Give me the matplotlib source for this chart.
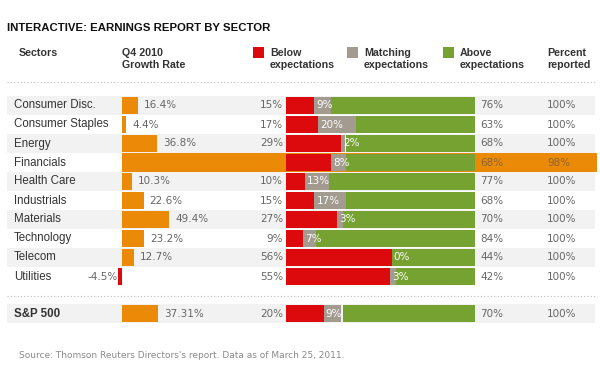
import matplotlib
matplotlib.use("Agg")
import matplotlib.pyplot as plt
from matplotlib.patches import Rectangle

# ---------------- data ----------------
sectors = ["Consumer Disc.", "Consumer Staples", "Energy", "Financials", "Health Care",
           "Industrials", "Materials", "Technology", "Telecom", "Utilities"]
growth = [16.4, 4.4, 36.8, 172.0, 10.3, 22.6, 49.4, 23.2, 12.7, -4.5]
growth_labels = ["16.4%", "4.4%", "36.8%", "", "10.3%", "22.6%", "49.4%", "23.2%", "12.7%", "-4.5%"]
below = [15, 17, 29, 24, 10, 15, 27, 9, 56, 55]
matching = [9, 20, 2, 8, 13, 17, 3, 7, 0, 3]
above = [76, 63, 68, 68, 77, 68, 70, 84, 44, 42]
reported = [100, 100, 100, 98, 100, 100, 100, 100, 100, 100]

total_name = "S&P 500"
total_growth = 37.31
total_growth_label = "37.31%"
total_below = 20
total_matching = 9
total_above = 70
total_reported = 100

highlight = "Financials"

# ---------------- style ----------------
ORANGE = "#EA8A06"
RED = "#DC0A0D"
GRAY = "#A39A90"
GREEN = "#76A232"
ROWBG = "#F2F2F2"
TXT = "#333333"
NUM = "#666666"
HLTXT = "#8A6436"
LABEL_FONT = ["Liberation Sans", "DejaVu Sans"]
NUM_FONT = ["DejaVu Sans"]

W, H = 600, 373
fig = plt.figure(figsize=(W / 100, H / 100), dpi=100)
ax = fig.add_axes([0, 0, 1, 1])
ax.set_xlim(0, W)
ax.set_ylim(H, 0)
ax.axis("off")

# layout (pixels)
row0, pitch = 105.5, 19.0
total_y = 313.7
bar_h = 17
px_per_pct = 0.96
g_left_px, g_zero_px, g_right_px = 118, 122, 287
s_left_px, s_right_px = 286, 475

ax_g = fig.add_axes([g_left_px / W, 0, (g_right_px - g_left_px) / W, 1])
ax_g.set_xlim(-(g_zero_px - g_left_px) / px_per_pct, (g_right_px - g_zero_px) / px_per_pct)
ax_g.set_ylim(H, 0)
ax_g.axis("off")

ax_s = fig.add_axes([s_left_px / W, 0, (s_right_px - s_left_px) / W, 1])
ax_s.set_xlim(0, 100)
ax_s.set_ylim(H, 0)
ax_s.axis("off")

# title and header
ax.text(7, 28, "INTERACTIVE: EARNINGS REPORT BY SECTOR", fontsize=8.2, fontweight="bold",
        family=LABEL_FONT, color="#111111", va="center", ha="left")
hdr = dict(fontsize=7.7, fontweight="bold", family=LABEL_FONT, color=TXT, va="center", ha="left")
ax.text(19, 53, "Sectors", **hdr)
ax.text(122, 53, "Q4 2010", **hdr)
ax.text(122, 65, "Growth Rate", **hdr)
for x0, col, l1 in [(253, RED, "Below"), (347, GRAY, "Matching"), (443, GREEN, "Above")]:
    ax.add_patch(Rectangle((x0, 46.5), 11, 11, facecolor=col, edgecolor="none"))
    ax.text(x0 + 17, 53, l1, **hdr)
    ax.text(x0 + 17, 65, "expectations", **hdr)
ax.text(547, 53, "Percent", **hdr)
ax.text(547, 65, "reported", **hdr)
ax.plot([7, 595], [82, 82], color="#BBBBBB", lw=0.8, ls=(0, (1, 2)))
ax.plot([7, 595], [296, 296], color="#BBBBBB", lw=0.8, ls=(0, (1, 2)))

numfmt = dict(fontsize=7.5, family=NUM_FONT, va="center")


def draw_row(y, name, g, glab, b, m, a, r, bg, hl, bold=False):
    if bg:
        ax.add_patch(Rectangle((7, y - pitch / 2), 588, pitch, facecolor=ROWBG, edgecolor="none", zorder=0))
    if hl:
        ax.add_patch(Rectangle((g_zero_px, y - pitch / 2), 597 - g_zero_px, pitch,
                               facecolor=ORANGE, edgecolor="none", zorder=0.5))
    ax.text(14, y, name, fontsize=8.3, family=LABEL_FONT, color=TXT, va="center", ha="left",
            fontweight="bold" if bold else "normal")
    # growth bar
    ax_g.barh(y, g, height=bar_h, left=0, color=ORANGE if g >= 0 else RED, edgecolor="none")
    if glab:
        if g >= 0:
            ax_g.annotate(glab, xy=(g, y), xytext=(6, 0), textcoords="offset pixels",
                          ha="left", color=NUM, **numfmt)
        else:
            ax_g.annotate(glab, xy=(g, y), xytext=(0, 0), textcoords="offset pixels",
                          ha="right", color=NUM, **numfmt)
    tcol = HLTXT if hl else NUM
    ax.text(283, y, f"{b}%", ha="right", color=tcol, **numfmt)
    # stacked bar
    ax_s.barh(y, b, left=0, height=bar_h, color=RED, edgecolor="none")
    ax_s.barh(y, m, left=b, height=bar_h, color=GRAY, edgecolor="none")
    ax_s.barh(y, a, left=100 - a, height=bar_h, color=GREEN, edgecolor="none")
    ax_s.annotate(f"{m}%", xy=(b, y), xytext=(2, 0), textcoords="offset pixels",
                  ha="left", color="white", **numfmt)
    ax.text(480, y, f"{a}%", ha="left", color=tcol, **numfmt)
    ax.text(547, y, f"{r}%", ha="left", color=tcol, **numfmt)


for i, name in enumerate(sectors):
    y = row0 + pitch * i
    draw_row(y, name, growth[i], growth_labels[i], below[i], matching[i], above[i], reported[i],
             bg=(i % 2 == 0), hl=(name == highlight))

draw_row(total_y, total_name, total_growth, total_growth_label, total_below, total_matching,
         total_above, total_reported, bg=True, hl=False, bold=True)

ax.text(19, 355, "Source: Thomson Reuters Directors's report. Data as of March 25, 2011.",
        fontsize=6.5, family=NUM_FONT, color="#8A8A8A", va="center", ha="left")

fig.savefig("out.png", dpi=100)
